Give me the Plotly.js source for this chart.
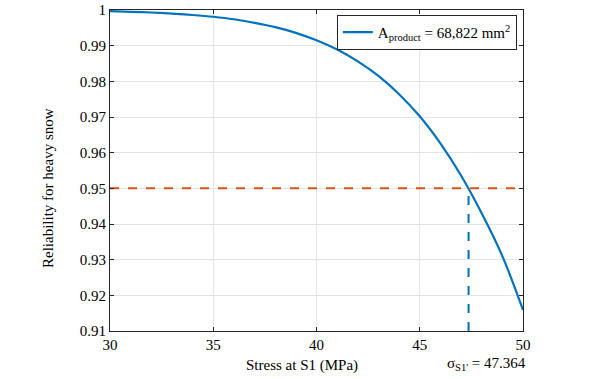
<!DOCTYPE html>
<html>
<head>
<meta charset="utf-8">
<script src="https://cdn.plot.ly/plotly-3.0.1.min.js"></script>
<style>html,body{margin:0;padding:0;background:#fff;}#chart{width:600px;height:379px;}</style>
</head>
<body>
<div id="chart"></div>
<script>
const stress = [30,31,32,33,34,35,36,37,38,39,40,41,42,43,44,45,46,47,48,49,50];
const reliability = [0.9997,0.9995,0.9993,0.9990,0.9986,0.9981,0.9974,0.9964,0.9952,0.9936,0.9915,0.9889,0.9856,0.9815,0.9764,0.9702,0.9626,0.9536,0.9430,0.9310,0.9159];
const targetR = 0.95;
const sigmaS1 = 47.364;
const xRange = [30, 50];
const yRange = [0.91, 1];
const xTicks = [30, 35, 40, 45, 50];
const yTicks = [0.91,0.92,0.93,0.94,0.95,0.96,0.97,0.98,0.99,1];
const yTickText = ['0.91','0.92','0.93','0.94','0.95','0.96','0.97','0.98','0.99','1'];
const xTitle = 'Stress at S1 (MPa)';
const yTitle = 'Reliability for heavy snow';

const font = 'Liberation Serif';

const traces = [
  {x: stress, y: reliability, type: 'scatter', mode: 'lines',
   line: {color: '#0072BD', width: 2.2, shape: 'spline'},
   name: 'A<sub>product</sub> = 68,822 mm<sup>2</sup>', showlegend: true},
  {x: xRange, y: [targetR, targetR], type: 'scatter', mode: 'lines',
   line: {color: '#D95319', width: 2, dash: 'dash'}, showlegend: false, hoverinfo: 'skip'},
  {x: [sigmaS1, sigmaS1], y: [yRange[0], targetR], type: 'scatter', mode: 'lines',
   line: {color: '#0072BD', width: 2, dash: 'dash'}, showlegend: false, hoverinfo: 'skip'}
];

const axisCommon = {
  showline: true, mirror: 'ticks', linecolor: '#262626', linewidth: 1,
  ticks: 'inside', ticklen: 4, tickcolor: '#262626',
  showgrid: true, gridcolor: '#e3e3e3', gridwidth: 1, zeroline: false,
  tickfont: {family: font, size: 15, color: '#000'}
};

const layout = {
  width: 600, height: 379,
  margin: {l: 110, r: 77, t: 10, b: 48},
  paper_bgcolor: '#fff', plot_bgcolor: '#fff',
  font: {family: font, size: 15, color: '#000'},
  xaxis: Object.assign({}, axisCommon, {range: xRange, tickvals: xTicks}),
  yaxis: Object.assign({}, axisCommon, {range: yRange, tickvals: yTicks, ticktext: yTickText}),
  legend: {x: 0.985, y: 0.985, xanchor: 'right', yanchor: 'top',
    bordercolor: '#262626', borderwidth: 1, bgcolor: '#fff',
    font: {family: font, size: 15}},
  annotations: [{
    x: sigmaS1, xref: 'x', y: 0, yref: 'paper', yshift: -33, yanchor: 'middle',
    xanchor: 'left', xshift: -24,
    text: 'σ<sub>S1\'</sub> = 47.364', showarrow: false,
    font: {family: font, size: 15}
  },{
    x: 0.465, xref: 'paper', y: 0, yref: 'paper', yshift: -34, yanchor: 'middle', xanchor: 'center',
    text: xTitle, showarrow: false, font: {family: font, size: 15}
  },{
    x: 0, xref: 'paper', xshift: -62, xanchor: 'center', y: 0.4455, yref: 'paper', yanchor: 'middle',
    text: yTitle, textangle: -90, showarrow: false, font: {family: font, size: 15}
  }],
  showlegend: true
};

Plotly.newPlot('chart', traces, layout, {displayModeBar: false, staticPlot: true});
</script>
</body>
</html>
